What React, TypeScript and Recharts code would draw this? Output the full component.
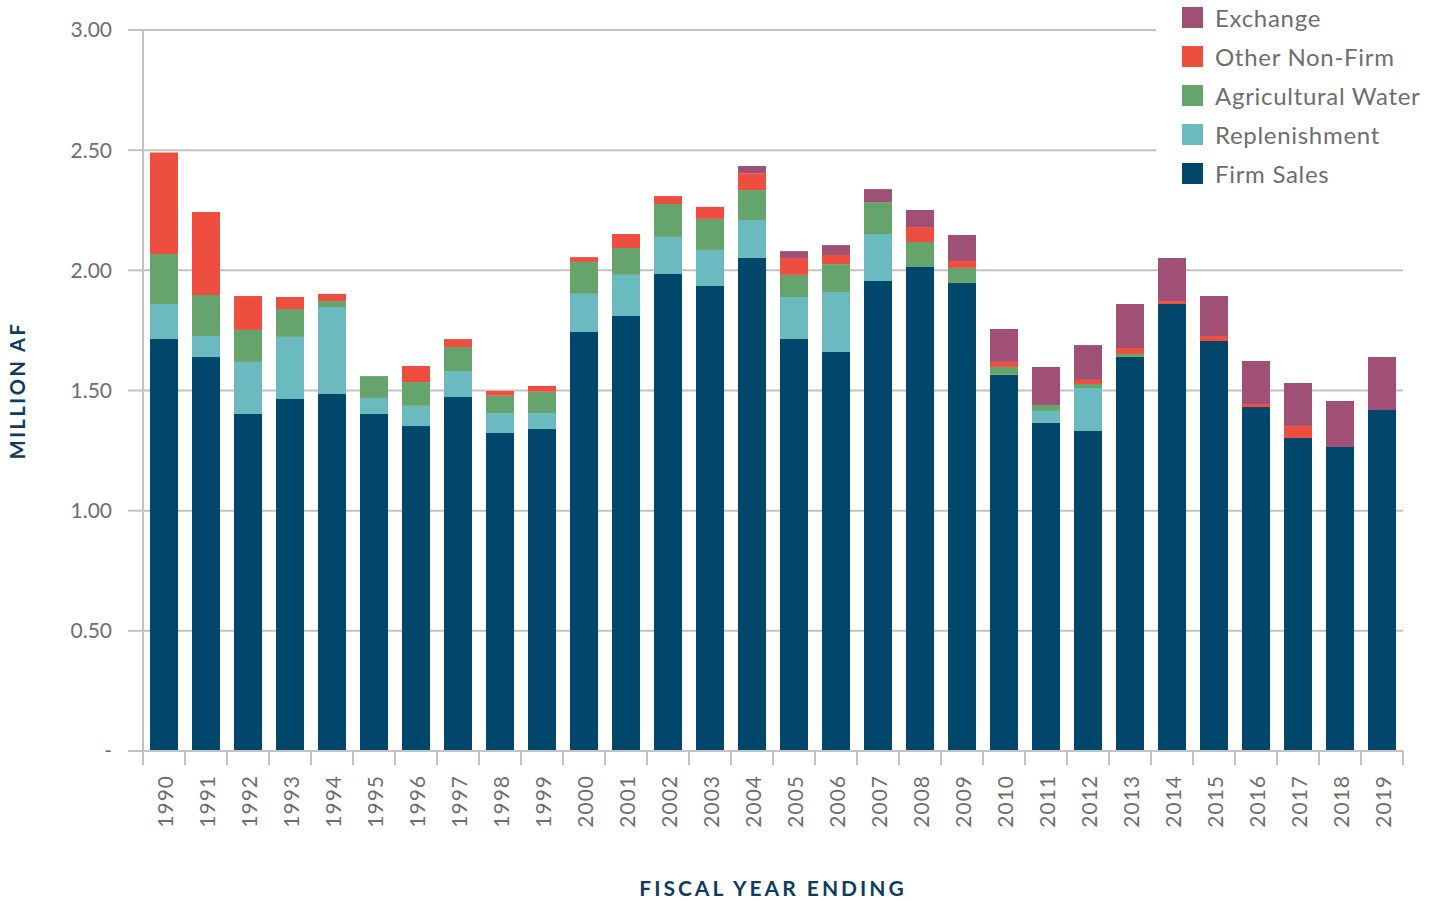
import { Bar, BarChart, CartesianGrid, XAxis, YAxis } from 'recharts'

const years = [
  '1990', '1991', '1992', '1993', '1994', '1995', '1996', '1997', '1998', '1999',
  '2000', '2001', '2002', '2003', '2004', '2005', '2006', '2007', '2008', '2009',
  '2010', '2011', '2012', '2013', '2014', '2015', '2016', '2017', '2018', '2019',
]

// million acre-feet
const firmSales = [
  1.714, 1.639, 1.402, 1.465, 1.485, 1.402, 1.352, 1.473, 1.323, 1.34,
  1.743, 1.81, 1.985, 1.935, 2.051, 1.714, 1.66, 1.956, 2.014, 1.947,
  1.565, 1.365, 1.332, 1.639, 1.86, 1.706, 1.431, 1.302, 1.265, 1.419,
]
const replenishment = [
  0.146, 0.088, 0.217, 0.258, 0.362, 0.067, 0.084, 0.108, 0.083, 0.066,
  0.159, 0.171, 0.154, 0.15, 0.158, 0.175, 0.25, 0.195, 0, 0,
  0, 0.05, 0.178, 0, 0, 0, 0, 0, 0, 0,
]
const agricultural = [
  0.208, 0.17, 0.133, 0.116, 0.025, 0.091, 0.099, 0.1, 0.072, 0.089,
  0.133, 0.112, 0.137, 0.129, 0.125, 0.092, 0.116, 0.133, 0.104, 0.063,
  0.033, 0.025, 0.017, 0.013, 0, 0, 0, 0, 0, 0,
]
const otherNonFirm = [
  0.422, 0.346, 0.141, 0.05, 0.03, 0, 0.067, 0.033, 0.02, 0.024,
  0.02, 0.058, 0.033, 0.05, 0.07, 0.07, 0.038, 0, 0.062, 0.029,
  0.021, 0, 0.017, 0.025, 0.012, 0.021, 0.013, 0.05, 0, 0,
]
const exchange = [
  0, 0, 0, 0, 0, 0, 0, 0, 0, 0,
  0, 0, 0, 0, 0.03, 0.029, 0.041, 0.054, 0.071, 0.108,
  0.137, 0.158, 0.145, 0.183, 0.179, 0.166, 0.179, 0.179, 0.191, 0.22,
]

const yTicks = [0, 0.5, 1, 1.5, 2, 2.5, 3]

// bottom to top of the stack
const series = [
  { key: 'firm', name: 'Firm Sales', color: '#00476b', values: firmSales },
  { key: 'repl', name: 'Replenishment', color: '#6bbac0', values: replenishment },
  { key: 'ag', name: 'Agricultural Water', color: '#66a46d', values: agricultural },
  { key: 'other', name: 'Other Non-Firm', color: '#ed4e3f', values: otherNonFirm },
  { key: 'exch', name: 'Exchange', color: '#a04f75', values: exchange },
]

const data = years.map((year, i) => {
  const row: Record<string, string | number> = { year }
  series.forEach((s) => (row[s.key] = s.values[i]))
  return row
})

const FONT = 'Lato, "Open Sans", sans-serif'
const GRAY_TEXT = '#6e6e6e'
const GRID = '#c2c2c2'
const NAVY = '#0f3b60'
const HALF_BAND = 21

const YearTick = (props: any) => {
  const { x, y, payload, index } = props
  const isLast = index === years.length - 1
  return (
    <g>
      <line x1={x - HALF_BAND} y1={y - 8} x2={x - HALF_BAND} y2={y + 6} stroke={GRID} strokeWidth={2} />
      {isLast && (
        <line x1={x + HALF_BAND} y1={y - 8} x2={x + HALF_BAND} y2={y + 6} stroke={GRID} strokeWidth={2} />
      )}
      <text
        transform={`translate(${x}, ${y + 16}) rotate(-90)`}
        textAnchor="end"
        dominantBaseline="central"
        fill={GRAY_TEXT}
        fontSize={21}
        fontFamily={FONT}
        letterSpacing={1}
      >
        {payload.value}
      </text>
    </g>
  )
}

const LegendBox = () => (
  <div
    style={{
      position: 'absolute',
      left: 1156,
      top: -2,
      width: 283,
      background: '#fff',
      paddingLeft: 26,
      paddingBottom: 4,
    }}
  >
    {[...series].reverse().map((s) => (
      <div key={s.key} style={{ display: 'flex', alignItems: 'center', height: 39.1 }}>
        <div style={{ width: 21, height: 21, background: s.color, marginRight: 12 }} />
        <span style={{ fontFamily: FONT, fontSize: 24, color: GRAY_TEXT, letterSpacing: 0.7 }}>{s.name}</span>
      </div>
    ))}
  </div>
)

export default function App() {
  return (
    <div style={{ position: 'absolute', left: 0, top: 0, width: 1439, height: 901, background: '#fff', overflow: 'hidden' }}>
      <BarChart
        width={1439}
        height={901}
        data={data}
        margin={{ top: 30, right: 36, left: 0, bottom: 0 }}
        barSize={28}
      >
        <CartesianGrid vertical={false} stroke={GRID} strokeWidth={2} />
        <XAxis
          dataKey="year"
          height={150}
          axisLine={{ stroke: GRID, strokeWidth: 2 }}
          tickLine={false}
          interval={0}
          tick={<YearTick />}
          label={{
            value: 'FISCAL YEAR ENDING',
            position: 'insideBottom',
            offset: 5,
            fill: NAVY,
            fontSize: 21,
            fontWeight: 700,
            fontFamily: FONT,
            letterSpacing: 3,
          }}
        />
        <YAxis
          width={143}
          domain={[0, 3]}
          ticks={yTicks}
          interval={0}
          axisLine={{ stroke: GRID, strokeWidth: 2 }}
          tickLine={{ stroke: GRID, strokeWidth: 2 }}
          tickSize={15}
          tickMargin={16}
          tick={{ fill: GRAY_TEXT, fontSize: 21, fontFamily: FONT }}
          tickFormatter={(v: number) => (v === 0 ? '-' : v.toFixed(2))}
          label={{
            value: 'MILLION AF',
            angle: -90,
            position: 'insideLeft',
            offset: 18,
            fill: NAVY,
            fontSize: 20,
            fontWeight: 700,
            fontFamily: FONT,
            letterSpacing: 2.5,
            style: { textAnchor: 'middle' },
          }}
        />
        {series.map((s) => (
          <Bar key={s.key} dataKey={s.key} name={s.name} stackId="a" fill={s.color} isAnimationActive={false} />
        ))}
      </BarChart>
      <LegendBox />
    </div>
  )
}
